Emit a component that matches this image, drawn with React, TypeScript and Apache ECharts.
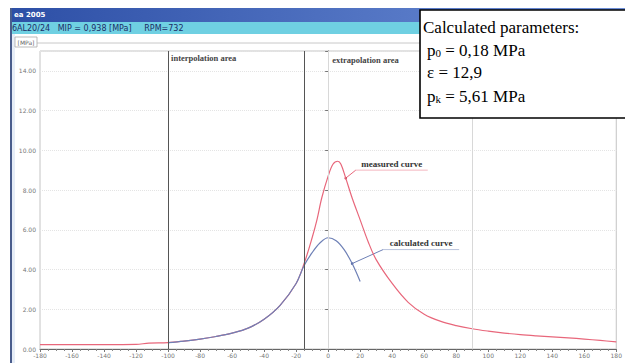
import React, { useEffect, useRef } from "react";
import * as echarts from "echarts";

// crank angle [deg] and pressure [MPa]
const measuredAngle = [-180, -160, -140, -120, -112, -100, -90, -80, -70, -60, -50, -40, -30, -20, -15, -10, -7, -4, 0, 3, 6, 8, 11, 15, 20, 25, 30, 40, 50, 60, 70, 80, 90, 100, 110, 120, 130, 140, 150, 160, 170, 180];
const measuredP = [0.22, 0.22, 0.22, 0.23, 0.3, 0.32, 0.4, 0.5, 0.63, 0.8, 1.05, 1.5, 2.2, 3.3, 4.3, 5.6, 6.5, 7.6, 8.7, 9.3, 9.45, 9.3, 8.6, 7.6, 6.5, 5.4, 4.5, 3.3, 2.35, 1.75, 1.4, 1.18, 1.02, 0.9, 0.8, 0.72, 0.66, 0.61, 0.56, 0.5, 0.43, 0.36];
const calcAngle = [-100, -90, -80, -70, -60, -50, -40, -30, -20, -15, -10, -5, 0, 5, 10, 15, 20];
const calcP = [0.32, 0.4, 0.5, 0.63, 0.8, 1.05, 1.5, 2.2, 3.3, 4.2, 4.85, 5.35, 5.6, 5.45, 5.0, 4.3, 3.4];

const xTicks = { min: -180, max: 180, step: 20 };
const yTicks = { min: 0, max: 15, step: 2 };
const boundaryLines = [-100, -15];
const faintLines = [0, 90];
const params = { p0: "0,18", eps: "12,9", pk: "5,61" };

export default function App() {
  const ref = useRef<HTMLDivElement>(null);
  useEffect(() => {
    document.body.style.margin = "0";
    const chart = echarts.init(ref.current!, null, { renderer: "svg" });
    const measured = measuredAngle.map((a, i) => [a, measuredP[i]]);
    const calc = calcAngle.map((a, i) => [a, calcP[i]]);
    chart.setOption({
      animation: false,
      backgroundColor: "#ffffff",
      grid: {
        left: 40, right: 8, top: 51, bottom: 14,
        show: true, backgroundColor: "#ffffff", borderColor: "#c4c4c4", borderWidth: 1,
      },
      xAxis: {
        type: "value", min: xTicks.min, max: xTicks.max, interval: xTicks.step,
        axisLine: { show: true, lineStyle: { color: "#666", width: 1 } },
        axisTick: { show: true, length: 3, lineStyle: { color: "#777" } },
        minorTick: { show: true, splitNumber: 4, length: 2, lineStyle: { color: "#888" } },
        splitLine: { show: false },
        axisLabel: { fontSize: 6, color: "#777", margin: 3, fontFamily: "DejaVu Sans" },
      },
      yAxis: {
        type: "value", min: yTicks.min, max: yTicks.max, interval: yTicks.step,
        axisLine: { show: true, lineStyle: { color: "#666", width: 1 } },
        axisTick: { show: true, length: 3, lineStyle: { color: "#777" } },
        splitLine: { show: true, lineStyle: { color: "#e4e4e4", type: "dotted" } },
        axisLabel: {
          fontSize: 6, color: "#777", margin: 4, fontFamily: "DejaVu Sans",
          formatter: (v: number) => (v > 14 ? "" : v.toFixed(2)),
        },
      },
      series: [
        {
          type: "line", data: measured, smooth: 0.35, showSymbol: false,
          lineStyle: { color: "#e8677b", width: 1.2 }, z: 2,
          markLine: {
            silent: true, symbol: "none", label: { show: false },
            data: [
              ...boundaryLines.map((v) => ({ xAxis: v, lineStyle: { color: "#555", width: 1, type: "solid" } })),
              ...faintLines.map((v) => ({ xAxis: v, lineStyle: { color: "#d8d8d8", width: 1, type: "solid" } })),
            ],
          },
        },
        {
          type: "line", data: calc, smooth: 0.35, showSymbol: false,
          lineStyle: { color: "#6e80b6", width: 1.2 }, z: 3,
        },
      ],
    });

    const px = (x: number, y: number) => chart.convertToPixel({ gridIndex: 0 }, [x, y]) as number[];
    const mA = px(11, 8.6);
    const cA = px(15, 4.3);
    const interp = px(boundaryLines[0], 0);
    const extra = px(0, 0);
    const serif = "'Liberation Serif', 'Times New Roman', serif";
    const ann = (anchor: number[], dx: number, dy: number, len: number, text: string, color: string, dot: string) => [
      { type: "line", shape: { x1: anchor[0], y1: anchor[1], x2: anchor[0] + dx, y2: anchor[1] + dy }, style: { stroke: color, lineWidth: 1 } },
      { type: "line", shape: { x1: anchor[0] + dx, y1: anchor[1] + dy, x2: anchor[0] + dx + len, y2: anchor[1] + dy }, style: { stroke: color, lineWidth: 0.8, opacity: 0.6 } },
      { type: "circle", shape: { cx: anchor[0], cy: anchor[1], r: 1.3 }, style: { fill: dot } },
      { type: "text", x: anchor[0] + dx + len / 2, y: anchor[1] + dy - 2, style: { text, font: `bold 9px ${serif}`, fill: "#333", textAlign: "center", textVerticalAlign: "bottom" } },
    ];
    const paramFont = `17px ${serif}`;
    chart.setOption({
      graphic: {
        elements: [
          { type: "rect", shape: { x: 10, y: 8, width: 615, height: 14 }, style: { fill: new echarts.graphic.LinearGradient(0, 0, 1, 0, [{ offset: 0, color: "#2d4fa6" }, { offset: 1, color: "#6d8fd8" }]) } },
          { type: "text", x: 14, y: 15, style: { text: "ea 2005", font: "bold 7px 'DejaVu Sans'", fill: "#ffffff", textVerticalAlign: "middle" } },
          { type: "rect", shape: { x: 10, y: 22, width: 615, height: 12 }, style: { fill: "#6fd0e2" } },
          { type: "text", x: 12, y: 28, style: { text: "6AL20/24   MIP = 0,938 [MPa]     RPM=732", font: "8px 'DejaVu Sans'", fill: "#1c2d66", textVerticalAlign: "middle" } },
          { type: "rect", shape: { x: 10, y: 8, width: 2, height: 355 }, style: { fill: "#4a5d8c" } },
          { type: "rect", shape: { x: 12, y: 34, width: 3, height: 329 }, style: { fill: "#e6edf7" } },
          { type: "line", shape: { x1: 15, y1: 43, x2: 625, y2: 43 }, style: { stroke: "#c8c8c8", lineWidth: 1 } },
          { type: "rect", shape: { x: 15, y: 37, width: 22, height: 10 }, style: { fill: "#ffffff", stroke: "#aaa", lineWidth: 0.8 } },
          { type: "text", x: 26, y: 42, style: { text: "[MPa]", font: "6px 'DejaVu Sans'", fill: "#666", textAlign: "center", textVerticalAlign: "middle" } },
          { type: "text", x: interp[0] + 3, y: 58, style: { text: "interpolation area", font: `bold 8.5px ${serif}`, fill: "#444", textVerticalAlign: "middle" } },
          { type: "text", x: extra[0] + 4, y: 60, style: { text: "extrapolation area", font: `bold 8.5px ${serif}`, fill: "#444", textVerticalAlign: "middle" } },
          ...ann(mA, 10, -8, 72, "measured curve", "#e8677b", "#c84a5e"),
          ...ann(cA, 31, -14, 76, "calculated curve", "#6e80b6", "#4e60a0"),
          { type: "rect", shape: { x: 420, y: 10, width: 210, height: 108 }, style: { fill: "#ffffff", stroke: "#000", lineWidth: 1.6 }, z: 100 },
          { type: "text", x: 423, y: 27, z: 101, style: { text: "Calculated parameters:", font: paramFont, fill: "#000", textVerticalAlign: "middle" } },
          { type: "text", x: 427, y: 50, z: 101, style: { text: `{n|p}{s|0}{n| = ${params.p0} MPa}`, fill: "#000", textVerticalAlign: "middle", rich: { n: { font: paramFont, fill: "#000" }, s: { font: `11px ${serif}`, fill: "#000", padding: [5, 0, 0, 0] } } } },
          { type: "text", x: 427, y: 72, z: 101, style: { text: `ε = ${params.eps}`, font: paramFont, fill: "#000", textVerticalAlign: "middle" } },
          { type: "text", x: 427, y: 96, z: 101, style: { text: `{n|p}{s|k}{n| = ${params.pk} MPa}`, fill: "#000", textVerticalAlign: "middle", rich: { n: { font: paramFont, fill: "#000" }, s: { font: `11px ${serif}`, fill: "#000", padding: [5, 0, 0, 0] } } } },
        ],
      },
    });
    return () => chart.dispose();
  }, []);
  return <div ref={ref} style={{ position: "fixed", left: 0, top: 0, width: 625, height: 363 }} />;
}
